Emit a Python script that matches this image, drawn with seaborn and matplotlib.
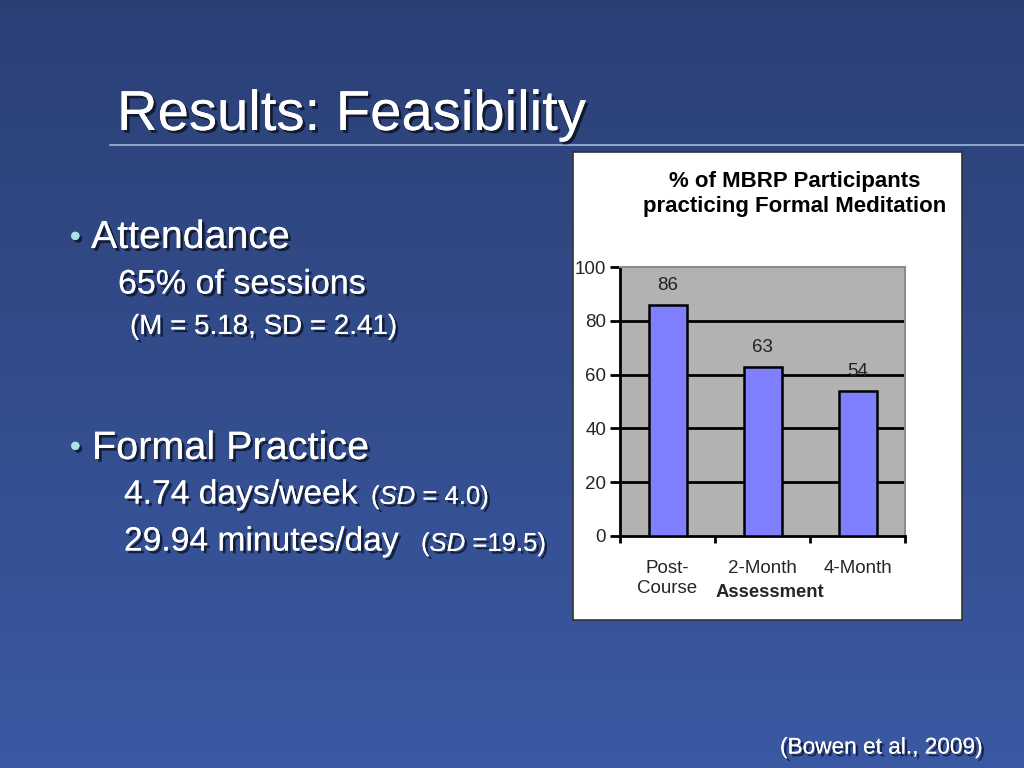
import numpy as np
import pandas as pd
import matplotlib
matplotlib.use("Agg")
import matplotlib.pyplot as plt
import matplotlib.patheffects as pe
import seaborn as sns

# chart data
categories = ["Post-\nCourse", "2-Month", "4-Month"]
values = [86, 63, 54]
yticks = [0, 20, 40, 60, 80, 100]

sns.set_theme(style="white")
plt.rcParams["font.family"] = ["Liberation Sans", "DejaVu Sans"]
plt.rcParams["mathtext.fontset"] = "custom"
plt.rcParams["mathtext.rm"] = "Liberation Sans"
plt.rcParams["mathtext.it"] = "Liberation Sans:italic"

fig = plt.figure(figsize=(10.24, 7.68), dpi=100)

# slide background: vertical blue gradient
bg = fig.add_axes([0, 0, 1, 1], zorder=-10)
top = np.array([0.17, 0.25, 0.46])
bot = np.array([0.23, 0.35, 0.64])
t = np.linspace(0, 1, 256)[:, None]
grad = top + (bot - top) * t
bg.imshow(grad[:, None, :].repeat(2, axis=1), aspect="auto", extent=[0, 1, 0, 1])
bg.set_xlim(0, 1)
bg.set_ylim(0, 1)
bg.axis("off")

shadow = [pe.withSimplePatchShadow(offset=(2, -2), shadow_rgbFace="black", alpha=0.6), pe.Normal()]

# title and rule
fig.text(117 / 1024, 1 - 116 / 768, "Results: Feasibility", color="white", fontsize=40.5,
         va="center", ha="left", path_effects=shadow)
bg.plot([110 / 1024, 1], [1 - 145 / 768, 1 - 145 / 768], color="#8ea3c8", lw=1.5)

# bullet text
bullet_col = "#a8e4e4"
def line(x, y, s, size, color="white", **kw):
    return fig.text(x / 1024, 1 - y / 768, s, color=color, fontsize=size, va="center", ha="left",
                    path_effects=shadow, **kw)

line(70, 238, "•", 22, color=bullet_col)
line(91, 238, "Attendance", 28.3)
line(118, 285, "65% of sessions", 24.5)
line(130, 327, "(M = 5.18, SD = 2.41)", 20)
line(70, 448, "•", 22, color=bullet_col)
line(92, 448, "Formal Practice", 28.5)
line(124, 495, "4.74 days/week", 24.2)
line(371, 497, r"($\it{SD}$ = 4.0)", 18.5)
line(124, 542, "29.94 minutes/day", 24.2)
line(421, 544, r"($\it{SD}$ =19.5)", 18.5)
line(780, 747, "(Bowen et al., 2009)", 16.3)

# white chart box
box = fig.add_axes([573 / 1024, 1 - 620 / 768, (962 - 573) / 1024, 468 / 768], zorder=-5)
box.set_facecolor("white")
box.set_xticks([])
box.set_yticks([])
for s in box.spines.values():
    s.set_color("#333333")
    s.set_linewidth(1.2)

fig.text(795 / 1024, 1 - 194 / 768, "% of MBRP Participants\npracticing Formal Meditation",
         ha="center", va="center", fontsize=16, fontweight="bold", color="black", linespacing=1.2)

ax = fig.add_axes([620 / 1024, 1 - 536 / 768, 285 / 1024, 269 / 768], zorder=5)
df = pd.DataFrame({"cat": categories, "val": values})
sns.barplot(data=df, x="cat", y="val", ax=ax, color="#8080ff", saturation=1,
            edgecolor="black", linewidth=1.8, width=0.4, zorder=3)
ax.set_facecolor("#b2b2b2")
ax.set_xlim(-0.5, 2.5)
ax.set_ylim(0, 100)
ax.set_yticks(yticks)
for yv in yticks[1:-1]:
    ax.axhline(yv, color="black", lw=2, zorder=1)
for i, v in enumerate(values):
    ax.text(i, v + 4, str(v), ha="center", va="bottom", fontsize=13.5, color="#222222")

for s in ["top", "right"]:
    ax.spines[s].set_color("#8c8c8c")
    ax.spines[s].set_linewidth(1.5)
for s in ["left", "bottom"]:
    ax.spines[s].set_color("black")
    ax.spines[s].set_linewidth(2)

ax.tick_params(axis="y", direction="out", length=7, width=2, color="black", left=True,
               labelsize=13.5, pad=3)
ax.tick_params(axis="x", which="major", length=0, labelsize=13.5, pad=17)
for lab in ax.get_xticklabels():
    lab.set_linespacing(1.25)
ax.set_xticks([-0.5, 0.5, 1.5, 2.5], minor=True)
ax.tick_params(axis="x", which="minor", direction="out", length=5, width=2, color="black", bottom=True)
ax.set_ylabel("")
ax.set_xlabel("Assessment", fontsize=13.3, fontweight="bold")
ax.xaxis.set_label_coords(0.526, -0.178)

fig.savefig("out.png", dpi=100)
